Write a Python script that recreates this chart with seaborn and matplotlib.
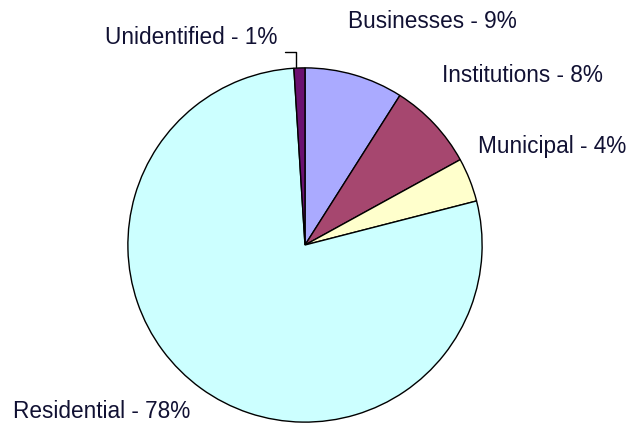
import matplotlib
matplotlib.use("Agg")
import matplotlib.pyplot as plt
import seaborn as sns

# slice data, clockwise from 12 o'clock
categories = ["Businesses", "Institutions", "Municipal", "Residential", "Unidentified"]
shares = [9, 8, 4, 78, 1]
colours = ["#aaaaff", "#a6476f", "#ffffcc", "#ccffff", "#6b1070"]

sns.set_theme(style="white")
plt.rcParams["font.family"] = ["Liberation Sans", "DejaVu Sans"]

W, H = 635, 428
fig = plt.figure(figsize=(W / 100, H / 100), dpi=100)
fig.patch.set_facecolor("white")

# pie centred at (305, 245) px with radius 178 px
cx, cy, r = 305, 245, 178
ax = fig.add_axes([(cx - r) / W, (H - cy - r) / H, 2 * r / W, 2 * r / H])
ax.pie(shares, colors=colours, startangle=90, counterclock=False,
       wedgeprops=dict(edgecolor="black", linewidth=1.0))
ax.set_xlim(-1.005, 1.005)
ax.set_ylim(-1.005, 1.005)
ax.set_aspect("equal")
ax.axis("off")

# label placement in pixels (left edge, vertical centre)
label_pos = {
    "Businesses": (348, 22),
    "Institutions": (442, 76),
    "Municipal": (478, 147),
    "Residential": (13, 412),
    "Unidentified": (105, 38),
}
for name, share in zip(categories, shares):
    x, y = label_pos[name]
    fig.text(x / W, 1 - y / H, f"{name} - {share}%", fontsize=16.3,
             color="#111133", ha="left", va="center")

# leader for the tiny slice
lx = [285 / W, 296 / W, 296 / W]
ly = [1 - 52 / H, 1 - 52 / H, 1 - 67 / H]
fig.add_artist(plt.Line2D(lx, ly, color="black", linewidth=1.0))

fig.savefig("out.png", dpi=100)
